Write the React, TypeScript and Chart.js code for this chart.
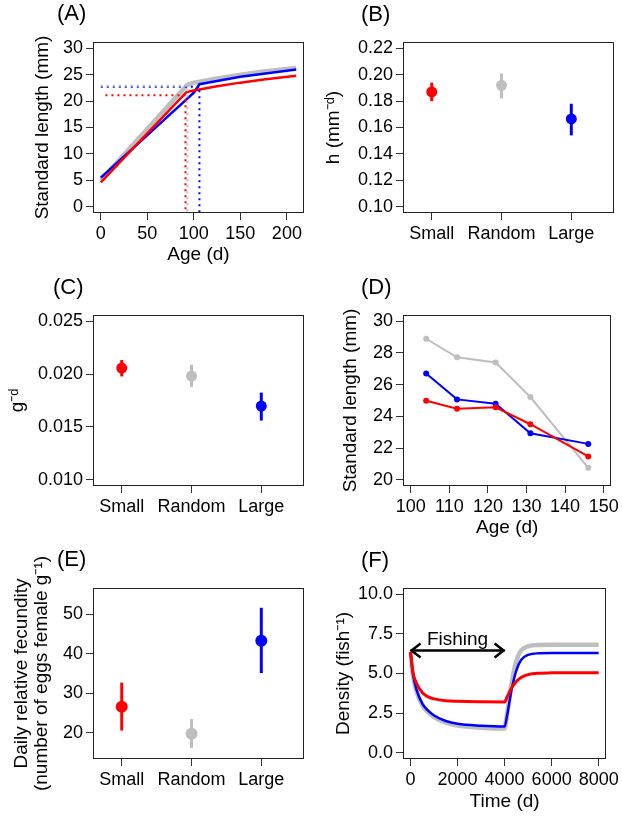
import React, { useEffect, useRef } from "react";
import { Chart, registerables } from "chart.js";

Chart.register(...registerables);

const RED = "#FF0000";
const BLUE = "#0000FF";
const GREY = "#BEBEBE";
const FONT = "'Liberation Sans', Arial, Helvetica, sans-serif";
const TICK_SIZE = 18;
const TITLE_SIZE = 19;

// ---------- Panel A: growth curves ----------
const ageA_small = [0, 92, 100, 125, 150, 175, 210];
const lenA_small = [4.6, 21.7, 22.0, 22.8, 23.5, 24.1, 24.8];
const ageA_random = [0, 93, 100, 125, 150, 175, 210];
const lenA_random = [5.0, 23.1, 23.5, 24.3, 25.0, 25.6, 26.3];
const ageA_large = [0, 100, 106, 125, 150, 175, 210];
const lenA_large = [5.5, 21.6, 23.2, 23.8, 24.6, 25.2, 26.0];
// maturation reference (dotted) lines: small, random, large
const refAgeA = [91, 93, 106];
const refLenA = [21.1, 22.9, 22.7];
const refStartA = [5, 0, 0];
const ticksAx = [0, 50, 100, 150, 200];
const ticksAy = [0, 5, 10, 15, 20, 25, 30];

// ---------- Categories (B, C, E) ----------
const categories = ["Small", "Random", "Large"];
const catColors = [RED, GREY, BLUE];
const catPos = [1, 2, 3];

// Panel B: h
const hMean = [0.187, 0.192, 0.1665];
const hLow = [0.180, 0.182, 0.154];
const hHigh = [0.194, 0.201, 0.178];
const ticksBy = [0.10, 0.12, 0.14, 0.16, 0.18, 0.20, 0.22];

// Panel C: g
const gMean = [0.02057, 0.01981, 0.01697];
const gLow = [0.01978, 0.01878, 0.0156];
const gHigh = [0.02134, 0.0209, 0.01825];
const ticksCy = [0.010, 0.015, 0.020, 0.025];

// Panel D: standard length by age
const ageD = [104, 112, 122, 131, 146];
const slSmall = [24.99, 24.48, 24.57, 23.5, 21.47];
const slLarge = [26.7, 25.07, 24.8, 22.93, 22.26];
const slRandom = [28.9, 27.73, 27.4, 25.22, 20.75];
const ticksDx = [100, 110, 120, 130, 140, 150];
const ticksDy = [20, 22, 24, 26, 28, 30];

// Panel E: fecundity
const fMean = [26.6, 19.8, 43.25];
const fLow = [20.6, 16.2, 35.1];
const fHigh = [32.7, 23.5, 51.6];
const ticksEy = [20, 30, 40, 50];

// Panel F: density over time
const timeF = [0, 100, 250, 500, 750, 1000, 1500, 2000, 3000, 4000, 4100, 4300, 4500, 4700, 5000, 5500, 6000, 7000, 8000];
const densSmall = [6.35, 5.1, 4.4, 3.8, 3.52, 3.4, 3.28, 3.24, 3.21, 3.2, 3.5, 4.1, 4.5, 4.75, 4.93, 5.02, 5.04, 5.05, 5.05];
const densLarge = [6.35, 5.0, 4.0, 3.1, 2.65, 2.35, 2.0, 1.82, 1.7, 1.65, 2.3, 4.0, 5.2, 5.85, 6.18, 6.28, 6.3, 6.3, 6.3];
const densRandom = [6.35, 4.9, 3.9, 3.0, 2.55, 2.25, 1.9, 1.72, 1.58, 1.52, 2.4, 4.4, 5.8, 6.45, 6.72, 6.8, 6.82, 6.82, 6.82];
const fishingStart = 0;
const fishingEnd = 4000;
const fishingLevel = 6.45;
const fishingLabel = "Fishing";
const fishingLabelX = 2000;
const fishingLabelY = 6.8;
const ticksFx = [0, 2000, 4000, 6000, 8000];
const ticksFy = [0, 2.5, 5, 7.5, 10];

// ---------- helpers ----------
type Cell = { x: number; y: number; w: number; h: number };
type Plot = { left: number; top: number; right: number; bottom: number };
type Axis = {
  min: number;
  max: number;
  ticks: number[];
  fmt: (v: number) => string;
  title?: string | string[];
  titleOffset?: number;
  titleLineHeight?: number;
};

const pts = (xs: number[], ys: number[]) => xs.map((x, i) => ({ x, y: ys[i] }));

function scaleOpts(ax: Axis, horizontal: boolean, fitSize: number) {
  const lhMul = ax.titleLineHeight ?? 1.2;
  const lh = TITLE_SIZE * lhMul;
  const pad = ax.titleOffset != null ? Math.max(0, ax.titleOffset - lh / 2) : 0;
  return {
    type: "linear",
    position: horizontal ? "bottom" : "left",
    min: ax.min,
    max: ax.max,
    afterFit: (s: any) => {
      if (horizontal) s.height = fitSize;
      else s.width = fitSize;
    },
    afterBuildTicks: (s: any) => {
      s.ticks = ax.ticks.map((v) => ({ value: v }));
    },
    ticks: {
      callback: (v: any) => ax.fmt(Number(v)),
      autoSkip: false,
      maxRotation: 0,
      minRotation: 0,
      color: "#000",
      padding: horizontal ? 3 : 3,
      font: { family: FONT, size: TICK_SIZE },
    },
    grid: {
      drawOnChartArea: false,
      drawTicks: true,
      tickLength: 7,
      color: "#333",
      lineWidth: 1,
    },
    border: { display: false },
    title: {
      display: !!ax.title,
      text: ax.title ?? "",
      color: "#000",
      font: { family: FONT, size: TITLE_SIZE, lineHeight: lhMul },
      padding: horizontal ? { top: 0, bottom: pad } : { top: pad, bottom: 0 },
    },
  };
}

function decorPlugin(label: string, lx: number, ly: number, extra?: (chart: any) => void) {
  return {
    id: "rDecor",
    afterDraw(chart: any) {
      const { ctx, chartArea: a } = chart;
      ctx.save();
      ctx.strokeStyle = "#222";
      ctx.lineWidth = 1;
      ctx.strokeRect(
        Math.round(a.left) + 0.5,
        Math.round(a.top) + 0.5,
        Math.round(a.right - a.left) - 1,
        Math.round(a.bottom - a.top) - 1
      );
      ctx.fillStyle = "#000";
      ctx.font = `22px ${FONT}`;
      ctx.textAlign = "left";
      ctx.textBaseline = "middle";
      ctx.fillText(label, lx, ly);
      if (extra) extra(chart);
      ctx.restore();
    },
  };
}

function makeConfig(cell: Cell, plot: Plot, xa: Axis, ya: Axis, datasets: any[], plugin: any) {
  return {
    type: "scatter",
    data: { datasets },
    plugins: [plugin],
    options: {
      responsive: false,
      maintainAspectRatio: false,
      animation: false,
      devicePixelRatio: 1,
      layout: {
        padding: {
          top: plot.top - cell.y,
          right: cell.x + cell.w - plot.right,
          left: 0,
          bottom: 0,
        },
      },
      plugins: { legend: { display: false }, tooltip: { enabled: false } },
      scales: {
        x: scaleOpts(xa, true, cell.y + cell.h - plot.bottom),
        y: scaleOpts(ya, false, plot.left - cell.x),
      },
    },
  };
}

function lineDs(data: any[], color: string, width: number, extra: any = {}) {
  return {
    data,
    showLine: true,
    borderColor: color,
    backgroundColor: color,
    borderWidth: width,
    pointRadius: 0,
    fill: false,
    ...extra,
  };
}

function catDatasets(mean: number[], lo: number[], hi: number[], radius: number) {
  const ds: any[] = [];
  catPos.forEach((x, i) => {
    ds.push({
      data: [{ x, y: mean[i] }],
      pointRadius: radius,
      pointBackgroundColor: catColors[i],
      pointBorderWidth: 0,
      showLine: false,
    });
  });
  catPos.forEach((x, i) => {
    ds.push(lineDs([{ x, y: lo[i] }, { x, y: hi[i] }], catColors[i], 3, { borderCapStyle: "butt" }));
  });
  return ds;
}

const catAxis: Axis = {
  min: 0.588,
  max: 3.612,
  ticks: catPos,
  fmt: (v) => categories[Math.round(v) - 1] ?? "",
};

// ---------- panel specs ----------
type Spec = { cell: Cell; build: (cell: Cell) => any };

const specs: Spec[] = [
  {
    cell: { x: 0, y: 0, w: 311, h: 273 },
    build: (cell) => {
      const plot = { left: 93, top: 42, right: 304, bottom: 213 };
      const dotted = refAgeA.map((ax, i) =>
        lineDs(
          [
            { x: refStartA[i], y: refLenA[i] },
            { x: ax, y: refLenA[i] },
            { x: ax, y: -1.2 },
          ],
          catColors[i],
          2,
          { borderDash: [2, 4], borderCapStyle: "butt" }
        )
      );
      const ds = [
        ...dotted,
        lineDs(pts(ageA_small, lenA_small), RED, 2.5),
        lineDs(pts(ageA_large, lenA_large), BLUE, 2.5),
        lineDs(pts(ageA_random, lenA_random), GREY, 4.5),
      ];
      return makeConfig(
        cell,
        plot,
        { min: -8.4, max: 218.4, ticks: ticksAx, fmt: (v) => String(v), title: "Age (d)", titleOffset: 18 },
        { min: -1.2, max: 31.2, ticks: ticksAy, fmt: (v) => String(v), title: "Standard length (mm)", titleOffset: 43 },
        ds,
        decorPlugin("(A)", 57, 14)
      );
    },
  },
  {
    cell: { x: 311, y: 0, w: 311, h: 273 },
    build: (cell) => {
      const plot = { left: 403, top: 42, right: 614, bottom: 213 };
      return makeConfig(
        cell,
        plot,
        catAxis,
        { min: 0.0952, max: 0.2248, ticks: ticksBy, fmt: (v) => v.toFixed(2), title: "h (mm\u207B\u1D48)", titleOffset: 23 },
        catDatasets(hMean, hLow, hHigh, 5.5),
        decorPlugin("(B)", 50, 15)
      );
    },
  },
  {
    cell: { x: 0, y: 273, w: 311, h: 273 },
    build: (cell) => {
      const plot = { left: 93, top: 315, right: 304, bottom: 486 };
      return makeConfig(
        cell,
        plot,
        catAxis,
        { min: 0.0094, max: 0.0256, ticks: ticksCy, fmt: (v) => v.toFixed(3), title: "g\u207B\u1D48", titleOffset: 18 },
        catDatasets(gMean, gLow, gHigh, 5.5),
        decorPlugin("(C)", 53, 15)
      );
    },
  },
  {
    cell: { x: 311, y: 273, w: 311, h: 273 },
    build: (cell) => {
      const plot = { left: 403, top: 315, right: 614, bottom: 486 };
      const ds = [
        lineDs(pts(ageD, slSmall), RED, 2, { pointRadius: 3, pointBorderWidth: 0 }),
        lineDs(pts(ageD, slLarge), BLUE, 2, { pointRadius: 3, pointBorderWidth: 0 }),
        lineDs(pts(ageD, slRandom), GREY, 2, { pointRadius: 3, pointBorderWidth: 0 }),
      ];
      return makeConfig(
        cell,
        plot,
        { min: 98, max: 152, ticks: ticksDx, fmt: (v) => String(v), title: "Age (d)", titleOffset: 18 },
        { min: 19.6, max: 30.4, ticks: ticksDy, fmt: (v) => String(v), title: "Standard length (mm)", titleOffset: 40 },
        ds,
        decorPlugin("(D)", 50, 15)
      );
    },
  },
  {
    cell: { x: 0, y: 546, w: 311, h: 273 },
    build: (cell) => {
      const plot = { left: 93, top: 588, right: 304, bottom: 759 };
      return makeConfig(
        cell,
        plot,
        catAxis,
        {
          min: 13.4,
          max: 56.6,
          ticks: ticksEy,
          fmt: (v) => String(v),
          title: ["Daily relative fecundity", "(number of eggs female g\u207B\u00B9)"],
          titleOffset: 22,
          titleLineHeight: 1.05,
        },
        catDatasets(fMean, fLow, fHigh, 6),
        decorPlugin("(E)", 57, 14)
      );
    },
  },
  {
    cell: { x: 311, y: 546, w: 311, h: 273 },
    build: (cell) => {
      const plot = { left: 403, top: 588, right: 614, bottom: 759 };
      const mono = { cubicInterpolationMode: "monotone" };
      const ds = [
        lineDs(pts(timeF, densSmall), RED, 3, mono),
        lineDs(pts(timeF, densLarge), BLUE, 2.5, mono),
        lineDs(pts(timeF, densRandom), GREY, 4.5, mono),
      ];
      const arrow = (chart: any) => {
        const { ctx } = chart;
        const xs = chart.scales.x;
        const ys = chart.scales.y;
        const x1 = xs.getPixelForValue(fishingStart);
        const x2 = xs.getPixelForValue(fishingEnd);
        const y = ys.getPixelForValue(fishingLevel);
        ctx.strokeStyle = "#000";
        ctx.lineWidth = 2.5;
        ctx.lineCap = "butt";
        ctx.lineJoin = "miter";
        ctx.beginPath();
        ctx.moveTo(x1, y);
        ctx.lineTo(x2, y);
        ctx.stroke();
        ctx.beginPath();
        ctx.moveTo(x1 + 10, y - 7);
        ctx.lineTo(x1 + 1, y);
        ctx.lineTo(x1 + 10, y + 7);
        ctx.moveTo(x2 - 10, y - 7);
        ctx.lineTo(x2 - 1, y);
        ctx.lineTo(x2 - 10, y + 7);
        ctx.stroke();
        ctx.fillStyle = "#000";
        ctx.font = `${TITLE_SIZE}px ${FONT}`;
        ctx.textAlign = "center";
        ctx.textBaseline = "alphabetic";
        ctx.fillText(fishingLabel, xs.getPixelForValue(fishingLabelX), ys.getPixelForValue(fishingLabelY));
      };
      return makeConfig(
        cell,
        plot,
        { min: -320, max: 8320, ticks: ticksFx, fmt: (v) => String(v), title: "Time (d)", titleOffset: 17 },
        { min: -0.4, max: 10.4, ticks: ticksFy, fmt: (v) => v.toFixed(1), title: "Density (fish\u207B\u00B9)", titleOffset: 33 },
        ds,
        decorPlugin("(F)", 50, 15, arrow)
      );
    },
  },
];

function Panel({ spec }: { spec: Spec }) {
  const ref = useRef<HTMLCanvasElement | null>(null);
  useEffect(() => {
    if (!ref.current) return;
    const chart = new Chart(ref.current, spec.build(spec.cell) as any);
    return () => chart.destroy();
  }, [spec]);
  const { x, y, w, h } = spec.cell;
  return (
    <canvas
      ref={ref}
      width={w}
      height={h}
      style={{ position: "absolute", left: x, top: y, width: w, height: h }}
    />
  );
}

export default function App() {
  return (
    <div style={{ position: "absolute", left: 0, top: 0, width: 622, height: 819, background: "#fff" }}>
      {specs.map((s, i) => (
        <Panel key={i} spec={s} />
      ))}
    </div>
  );
}
